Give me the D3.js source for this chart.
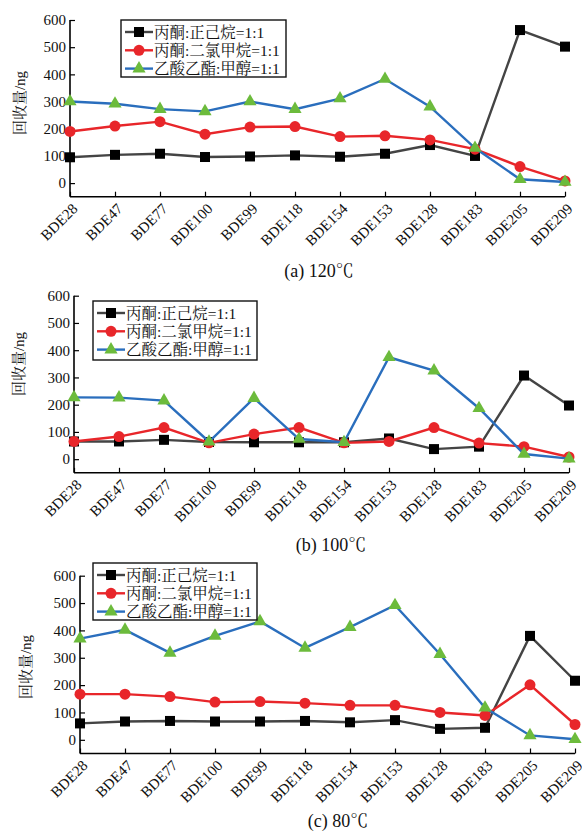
<!DOCTYPE html>
<html>
<head>
<meta charset="utf-8">
<script src="https://cdn.jsdelivr.net/npm/d3@7"></script>
<style>
  body { margin: 0; background: #fff; }
  svg text { font-family: "Liberation Serif", "Noto Serif CJK SC", "Noto Sans CJK SC", serif; fill: #111; }
</style>
</head>
<body>
<svg id="chart" width="582" height="831"></svg>
<script>
// categories on the x axis
var congeners = ["BDE28", "BDE47", "BDE77", "BDE100", "BDE99", "BDE118",
                 "BDE154", "BDE153", "BDE128", "BDE183", "BDE205", "BDE209"];
var yTicks = [0, 100, 200, 300, 400, 500, 600];
var seriesNames = ["丙酮:正己烷=1:1", "丙酮:二氯甲烷=1:1", "乙酸乙酯:甲醇=1:1"];

// (a) 120℃
var hexane120 = [95, 104, 108, 96, 98, 102, 97, 108, 140, 100, 563, 502];
var dcm120    = [190, 210, 226, 180, 206, 208, 171, 174, 159, 125, 61, 8];
var etac120   = [300, 292, 272, 264, 300, 272, 311, 383, 281, 129, 14, 4];

// (b) 100℃
var hexane100 = [65, 65, 71, 63, 62, 62, 62, 76, 37, 46, 307, 197];
var dcm100    = [65, 83, 116, 60, 92, 116, 60, 65, 116, 59, 46, 8];
var etac100   = [227, 226, 215, 64, 224, 74, 62, 374, 325, 187, 19, 2];

// (c) 80℃
var hexane80 = [60, 67, 69, 67, 67, 69, 64, 72, 40, 44, 380, 216];
var dcm80    = [167, 167, 158, 138, 140, 134, 126, 126, 100, 89, 201, 56];
var etac80   = [370, 402, 318, 380, 433, 336, 412, 492, 313, 117, 16, 2];

var captions = ["(a) 120℃", "(b) 100℃", "(c) 80℃"];

var styles = [
  {line: "#444444", fill: "#000000", marker: "square"},
  {line: "#e8262a", fill: "#e8262a", marker: "circle"},
  {line: "#2a6ebd", fill: "#6cbb3c", marker: "triangle"}
];

// layout of each panel
var panels = [
  {x0: 70, x1: 565, top: 20,    bottom: 196.7, legend: [121, 20, 165, 57],
   labelX: 20, labelY: 103, capX: 319, capY: 277, data: [hexane120, dcm120, etac120]},
  {x0: 74, x1: 569, top: 295.7, bottom: 472.8, legend: [93, 301, 164, 59],
   labelX: 19, labelY: 364, capX: 331, capY: 551, data: [hexane100, dcm100, etac100]},
  {x0: 80, x1: 575, top: 575.7, bottom: 753.5, legend: [93, 563, 164, 57],
   labelX: 26, labelY: 667, capX: 338, capY: 827, data: [hexane80, dcm80, etac80]}
];

var svg = d3.select("#chart");

function drawMarker(g, type, cx, cy, st) {
  if (type === "square") {
    g.append("rect").attr("x", cx - 5).attr("y", cy - 5)
      .attr("width", 10).attr("height", 10).attr("fill", st.fill);
  } else if (type === "circle") {
    g.append("circle").attr("cx", cx).attr("cy", cy).attr("r", 5.5).attr("fill", st.fill);
  } else {
    g.append("path")
      .attr("d", d3.symbol().type(d3.symbolTriangle).size(75)())
      .attr("transform", "translate(" + cx + "," + cy + ")")
      .attr("fill", st.fill);
  }
}

panels.forEach(function(p, pi) {
  var g = svg.append("g");

  var x = d3.scalePoint().domain(congeners).range([p.x0, p.x1]);
  var y = d3.scaleLinear().domain([-50, 600]).range([p.bottom, p.top]);

  // axes, ticks pointing inward
  var xAxis = g.append("g")
      .attr("transform", "translate(0," + p.bottom + ")")
      .call(d3.axisBottom(x).tickSizeInner(-5).tickSizeOuter(0).tickPadding(6));
  xAxis.select(".domain").attr("stroke-width", 1.6).attr("d", "M" + p.x0 + ",0H" + p.x1);
  xAxis.selectAll(".tick line").attr("stroke-width", 1.2);
  xAxis.selectAll(".tick text")
      .attr("font-size", 15)
      .attr("text-anchor", "end")
      .attr("dy", 0)
      .attr("transform", "translate(8,13) rotate(-45)")
      .attr("y", 0).attr("x", 0);

  var yAxis = g.append("g")
      .attr("transform", "translate(" + p.x0 + ",0)")
      .call(d3.axisLeft(y).tickValues(yTicks).tickSizeInner(-5).tickSizeOuter(0).tickPadding(4));
  yAxis.select(".domain").attr("stroke-width", 1.6).attr("d", "M0," + y(600) + "V" + p.bottom);
  yAxis.selectAll(".tick line").attr("stroke-width", 1.2);
  yAxis.selectAll(".tick text").attr("font-size", 15);
  g.selectAll(".tick text").style("font-family", "Liberation Serif, serif");

  // y label
  g.append("text")
      .attr("transform", "translate(" + p.labelX + "," + p.labelY + ") rotate(-90)")
      .attr("text-anchor", "middle")
      .attr("dy", "0.35em")
      .attr("font-size", 15)
      .text("回收量/ng");

  // series
  p.data.forEach(function(vals, si) {
    var st = styles[si];
    var line = d3.line()
        .x(function(d, i) { return x(congeners[i]); })
        .y(function(d) { return y(d); });
    g.append("path").datum(vals)
        .attr("d", line)
        .attr("fill", "none")
        .attr("stroke", st.line)
        .attr("stroke-width", 2.4);
    vals.forEach(function(v, i) {
      drawMarker(g, st.marker, x(congeners[i]), y(v), st);
    });
  });

  // legend
  var L = p.legend;
  var lg = g.append("g");
  lg.append("rect").attr("x", L[0]).attr("y", L[1]).attr("width", L[2]).attr("height", L[3])
    .attr("fill", "#fff").attr("stroke", "#111").attr("stroke-width", 1.4);
  seriesNames.forEach(function(name, si) {
    var st = styles[si];
    var ry = L[1] + 12 + si * 18.3;
    lg.append("line").attr("x1", L[0] + 4).attr("x2", L[0] + 32)
      .attr("y1", ry).attr("y2", ry).attr("stroke", st.line).attr("stroke-width", 2.4);
    drawMarker(lg, st.marker, L[0] + 18, ry, st);
    lg.append("text").attr("x", L[0] + 33).attr("y", ry).attr("dy", "0.36em")
      .attr("font-size", 15.5).text(name);
  });

  // caption
  g.append("text").attr("x", p.capX).attr("y", p.capY)
    .attr("text-anchor", "middle").attr("font-size", 18).text(captions[pi]);
});
</script>
</body>
</html>
